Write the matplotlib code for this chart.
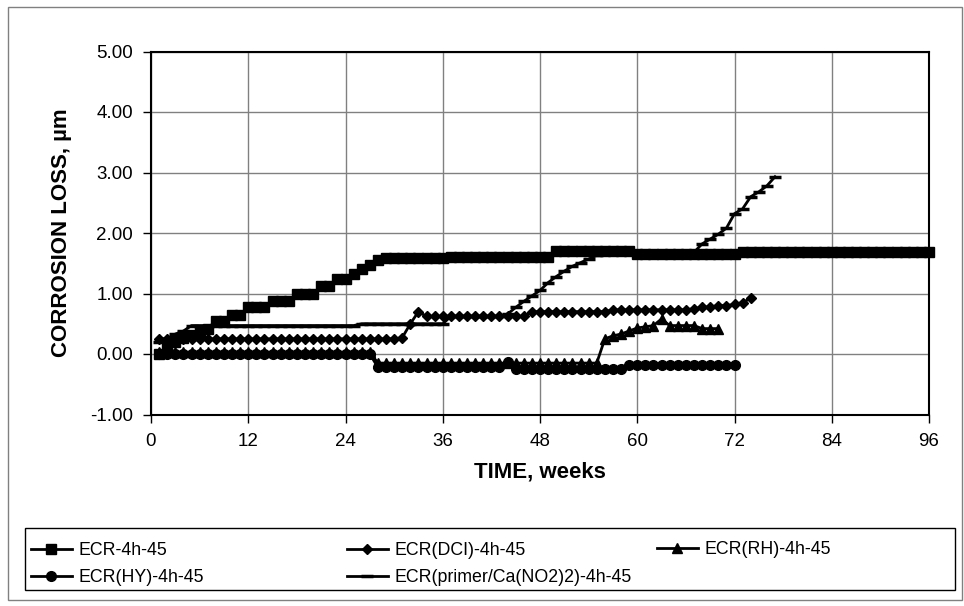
import matplotlib
matplotlib.use('Agg')
import matplotlib.pyplot as plt
from matplotlib.patches import Rectangle

plt.rcParams['font.family'] = ['Liberation Sans', 'DejaVu Sans']

# ---------------- data ----------------
weeks_ecr = list(range(1, 97))
ecr = [
    0.00, 0.12, 0.20, 0.27, 0.32, 0.36, 0.42, 0.55, 0.55, 0.65,
    0.65, 0.77, 0.77, 0.77, 0.88, 0.88, 0.88, 1.00, 1.00, 1.00,
    1.12, 1.12, 1.24, 1.24, 1.32, 1.40, 1.47, 1.55, 1.59, 1.59,
    1.59, 1.59, 1.59, 1.59, 1.59, 1.59, 1.61, 1.61, 1.61, 1.61,
    1.61, 1.61, 1.61, 1.61, 1.61, 1.61, 1.61, 1.61, 1.61, 1.71,
    1.71, 1.71, 1.71, 1.71, 1.71, 1.71, 1.71, 1.71, 1.71, 1.66,
    1.66, 1.66, 1.66, 1.66, 1.66, 1.66, 1.66, 1.66, 1.66, 1.66,
    1.66, 1.66, 1.69, 1.69, 1.69, 1.69, 1.69, 1.69, 1.69, 1.69,
    1.69, 1.69, 1.69, 1.69, 1.69, 1.69, 1.69, 1.69, 1.69, 1.69,
    1.69, 1.69, 1.69, 1.69, 1.69, 1.69,
]

weeks_dci = list(range(1, 75))
dci = [
    0.25, 0.25, 0.25, 0.25, 0.25, 0.25, 0.25, 0.25, 0.25, 0.25,
    0.25, 0.25, 0.25, 0.25, 0.25, 0.25, 0.25, 0.25, 0.25, 0.25,
    0.25, 0.25, 0.25, 0.25, 0.25, 0.25, 0.25, 0.25, 0.25, 0.25,
    0.27, 0.50, 0.70, 0.62, 0.62, 0.62, 0.62, 0.62, 0.62, 0.62,
    0.62, 0.62, 0.62, 0.62, 0.62, 0.62, 0.70, 0.70, 0.70, 0.70,
    0.70, 0.70, 0.70, 0.70, 0.70, 0.70, 0.73, 0.73, 0.73, 0.73,
    0.73, 0.73, 0.73, 0.73, 0.73, 0.73, 0.75, 0.77, 0.78, 0.80,
    0.80, 0.82, 0.85, 0.92,
]

weeks_rh = list(range(1, 71))
rh = [
    0.03, 0.03, 0.03, 0.03, 0.03, 0.03, 0.03, 0.03, 0.03, 0.03,
    0.03, 0.03, 0.03, 0.03, 0.03, 0.03, 0.03, 0.03, 0.03, 0.03,
    0.03, 0.03, 0.03, 0.03, 0.03, 0.03, 0.03, -0.15, -0.15, -0.15,
    -0.15, -0.15, -0.15, -0.15, -0.15, -0.15, -0.15, -0.15, -0.15, -0.15,
    -0.15, -0.15, -0.15, -0.15, -0.15, -0.15, -0.15, -0.15, -0.15, -0.15,
    -0.15, -0.15, -0.15, -0.15, -0.15, 0.25, 0.30, 0.33, 0.38, 0.43,
    0.45, 0.47, 0.58, 0.47, 0.47, 0.47, 0.47, 0.42, 0.42, 0.42,
]

weeks_hy = list(range(1, 73))
hy = [
    0.00, 0.00, 0.00, 0.00, 0.00, 0.00, 0.00, 0.00, 0.00, 0.00,
    0.00, 0.00, 0.00, 0.00, 0.00, 0.00, 0.00, 0.00, 0.00, 0.00,
    0.00, 0.00, 0.00, 0.00, 0.00, 0.00, 0.00, -0.22, -0.22, -0.22,
    -0.22, -0.22, -0.22, -0.22, -0.22, -0.22, -0.22, -0.22, -0.22, -0.22,
    -0.22, -0.22, -0.22, -0.13, -0.24, -0.24, -0.24, -0.24, -0.24, -0.24,
    -0.24, -0.24, -0.24, -0.24, -0.24, -0.24, -0.24, -0.24, -0.19, -0.19,
    -0.19, -0.19, -0.19, -0.19, -0.19, -0.19, -0.19, -0.19, -0.19, -0.19,
    -0.19, -0.19,
]

weeks_primer = list(range(1, 78))
primer = [
    0.20, 0.25, 0.33, 0.38, 0.47, 0.47, 0.47, 0.47, 0.47, 0.47,
    0.47, 0.47, 0.47, 0.47, 0.47, 0.47, 0.47, 0.47, 0.47, 0.47,
    0.47, 0.47, 0.47, 0.47, 0.47, 0.50, 0.50, 0.50, 0.50, 0.50,
    0.50, 0.50, 0.50, 0.50, 0.50, 0.50, 0.62, 0.62, 0.62, 0.62,
    0.62, 0.62, 0.62, 0.66, 0.77, 0.87, 0.96, 1.05, 1.18, 1.28,
    1.37, 1.45, 1.51, 1.57, 1.63, 1.68, 1.68, 1.68, 1.68, 1.68,
    1.68, 1.68, 1.68, 1.68, 1.68, 1.68, 1.68, 1.82, 1.90, 1.98,
    2.08, 2.32, 2.40, 2.60, 2.68, 2.78, 2.93,
]

labels = ['ECR-4h-45', 'ECR(DCI)-4h-45', 'ECR(RH)-4h-45',
          'ECR(HY)-4h-45', 'ECR(primer/Ca(NO2)2)-4h-45']
x_ticks = [0, 12, 24, 36, 48, 60, 72, 84, 96]
y_ticks = [-1.0, 0.0, 1.0, 2.0, 3.0, 4.0, 5.0]
y_tick_labels = ['-1.00', '0.00', '1.00', '2.00', '3.00', '4.00', '5.00']

# ---------------- figure ----------------
W, H = 964, 606
fig = plt.figure(figsize=(W / 100, H / 100), dpi=100)
fig.patch.set_facecolor('white')

# outer chart border
fig.patches.append(Rectangle((8 / W, 1 - 600 / H), (962 - 8) / W, (600 - 7) / H,
                             transform=fig.transFigure, fill=False,
                             edgecolor='#808080', linewidth=1))

ax = fig.add_axes([151 / W, 1 - 414.5 / H, (929 - 151) / W, (414.5 - 51.5) / H])

common = dict(color='black', linewidth=2, markerfacecolor='black',
              markeredgecolor='black', clip_on=False)
h1, = ax.plot(weeks_ecr, ecr, marker='s', markersize=7, label=labels[0], **common)
h2, = ax.plot(weeks_dci, dci, marker='D', markersize=5.5, label=labels[1], **common)
h3, = ax.plot(weeks_rh, rh, marker='^', markersize=7.5, label=labels[2], **common)
h4, = ax.plot(weeks_hy, hy, marker='o', markersize=7, label=labels[3], **common)
h5, = ax.plot(weeks_primer, primer, marker='_', markersize=9, markeredgewidth=2.5,
              label=labels[4], **common)

ax.set_xlim(0, 96)
ax.set_ylim(-1, 5)
ax.set_xticks(x_ticks)
ax.set_xticklabels([str(t) for t in x_ticks])
ax.set_yticks(y_ticks)
ax.set_yticklabels(y_tick_labels)
ax.tick_params(axis='both', direction='out', length=6, width=1, color='black',
               labelsize=13.5)
ax.tick_params(axis='y', pad=7)
ax.tick_params(axis='x', pad=7)
ax.grid(True, color='#808080', linewidth=1)
ax.set_axisbelow(True)
for s in ax.spines.values():
    s.set_color('black')
    s.set_linewidth(1.5)

fig.text(540 / W, 1 - 472 / H, 'TIME, weeks', ha='center', va='center',
         fontsize=16, fontweight='bold')
fig.text(62 / W, 1 - 233 / H, 'CORROSION LOSS, µm', ha='center', va='center',
         rotation=90, fontsize=16, fontweight='bold')

# legend box
fig.patches.append(Rectangle((25 / W, 1 - 590 / H), 930 / W, 62 / H,
                             transform=fig.transFigure, fill=False,
                             edgecolor='black', linewidth=1))

leg_kw = dict(loc='center left', frameon=False, fontsize=12.8, borderpad=0,
              borderaxespad=0, handlelength=2.3, handletextpad=0.35,
              labelspacing=0.55)
fig.legend(handles=[h1, h4], bbox_to_anchor=(31 / W, 1 - 564 / H), **leg_kw)
fig.legend(handles=[h2, h5], bbox_to_anchor=(347 / W, 1 - 564 / H), **leg_kw)
fig.legend(handles=[h3], bbox_to_anchor=(657 / W, 1 - 550 / H), **leg_kw)

fig.savefig('out.png', dpi=100)
